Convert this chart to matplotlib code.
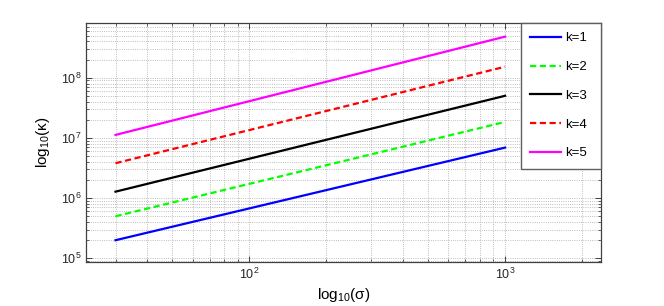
import matplotlib
matplotlib.use("Agg")
import matplotlib.pyplot as plt

plt.rcParams["font.family"] = ["Liberation Sans", "DejaVu Sans"]
plt.rcParams["mathtext.fontset"] = "custom"
plt.rcParams["mathtext.rm"] = "Liberation Sans"
plt.rcParams["mathtext.it"] = "Liberation Sans:italic"

# sigma values at the ends of each line
sigma = [30, 1000]
labels = ["k=1", "k=2", "k=3", "k=4", "k=5"]
kappa_k1 = [2.0e5, 6.9e6]
kappa_k2 = [5.0e5, 1.84e7]
kappa_k3 = [1.28e6, 5.0e7]
kappa_k4 = [3.8e6, 1.52e8]
kappa_k5 = [1.12e7, 4.8e8]

series = [kappa_k1, kappa_k2, kappa_k3, kappa_k4, kappa_k5]
colors = ["#0000ff", "#00ff00", "#000000", "#ff0000", "#ff00ff"]
styles = ["-", "--", "-", "--", "-"]

fig = plt.figure(figsize=(6.64, 3.06), dpi=100)
ax = fig.add_axes([0.1295, 0.1438, 0.7755, 0.7812])

for vals, c, ls, lab in zip(series, colors, styles, labels):
    line, = ax.plot(sigma, vals, color=c, linestyle=ls, linewidth=1.6, label=lab)
    if ls == "--":
        line.set_dashes((2.8, 1.6))

ax.set_xscale("log")
ax.set_yscale("log")
ax.set_xlim(23, 2370)
ax.set_ylim(8.7e4, 8.1e8)

ax.grid(True, which="both", linestyle=":", color="#a8a8a8", linewidth=0.6)
ax.tick_params(which="both", direction="in", top=True, right=True,
               labelsize=9, colors="#262626")
ax.tick_params(which="major", length=4, width=0.6)
ax.tick_params(which="minor", length=2, width=0.5)
for sp in ax.spines.values():
    sp.set_color("#404040")
    sp.set_linewidth(0.9)

ax.set_xlabel(r"log$_{10}$(σ)", fontsize=11, labelpad=3)
ax.set_ylabel(r"log$_{10}$(κ)", fontsize=11, labelpad=6)

leg = ax.legend(loc="upper left", bbox_to_anchor=(0.845, 1.0, 0.155, 0.0),
                mode="expand", borderaxespad=0, fancybox=False, framealpha=1,
                edgecolor="#606060", fontsize=9.5, handlelength=2.3,
                handletextpad=0.3, labelspacing=1.25, borderpad=0.7)
leg.get_frame().set_linewidth(1.0)

fig.savefig("out.png", dpi=100)
